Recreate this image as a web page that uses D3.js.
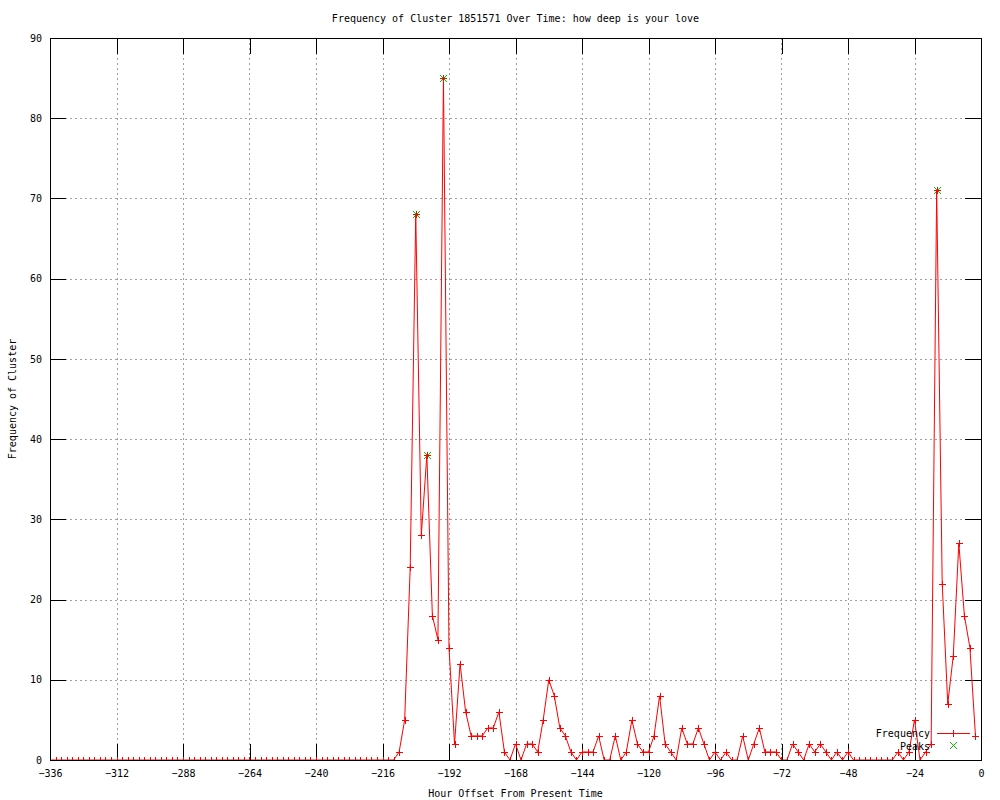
<!DOCTYPE html>
<html>
<head>
<meta charset="utf-8">
<script src="https://cdn.jsdelivr.net/npm/d3@7"></script>
<style>
  body { margin: 0; background: #fff; }
  svg { display: block; }
  text { font-family: 'DejaVu Sans Mono', monospace; font-size: 10px; fill: #000; }
</style>
</head>
<body>
<div id="chart"></div>
<script>
// hours before now, one reading every 2 hours (-336 .. -2)
var hours = d3.range(-336, 0, 2);

// frequency per reading
var frequency = [
  0, 0, 0, 0, 0, 0, 0, 0, 0, 0, 0, 0,          // -336 .. -314
  0, 0, 0, 0, 0, 0, 0, 0, 0, 0, 0, 0,          // -312 .. -290
  0, 0, 0, 0, 0, 0, 0, 0, 0, 0, 0, 0,          // -288 .. -266
  0, 0, 0, 0, 0, 0, 0, 0, 0, 0, 0, 0,          // -264 .. -242
  0, 0, 0, 0, 0, 0, 0, 0, 0, 0, 0, 0,          // -240 .. -218
  0, 0, 0, 1, 5, 24, 68, 28, 38, 18, 15, 85,   // -216 .. -194
  14, 2, 12, 6, 3, 3, 3, 4, 4, 6, 1, 0,        // -192 .. -170
  2, 0, 2, 2, 1, 5, 10, 8, 4, 3, 1, 0,         // -168 .. -146
  1, 1, 1, 3, 0, 0, 3, 0, 1, 5, 2, 1,          // -144 .. -122
  1, 3, 8, 2, 1, 0, 4, 2, 2, 4, 2, 0,          // -120 .. -98
  1, 0, 1, 0, 0, 3, 0, 2, 4, 1, 1, 1,          // -96 .. -74
  0, 0, 2, 1, 0, 2, 1, 2, 1, 0, 1, 0,          // -72 .. -50
  1, 0, 0, 0, 0, 0, 0, 0, 0, 1, 0, 1,          // -48 .. -26
  5, 0, 1, 2, 71, 22, 7, 13, 27, 18, 14, 3     // -24 .. -2
];

var peakHours = [-204, -200, -194, -16];
var peakValues = [68, 38, 85, 71];

var xTicks = d3.range(-336, 1, 24);
var yTicks = d3.range(0, 91, 10);

var titleText = 'Frequency of Cluster 1851571 Over Time: how deep is your love';
var xLabel = 'Hour Offset From Present Time';
var yLabel = 'Frequency of Cluster';

var width = 1000,
  height = 800,
  plotLeft = 50,
  plotRight = 981,
  plotTop = 38,
  plotBottom = 760,
  tickLen = 16;

var svg = d3.select('#chart').append('svg')
  .attr('width', width)
  .attr('height', height);

var x = d3.scaleLinear().domain([-336, 0]).range([plotLeft, plotRight]);
var y = d3.scaleLinear().domain([0, 90]).range([plotBottom, plotTop]);

// grid
var grid = svg.append('g')
  .attr('stroke', '#a0a0a0')
  .attr('stroke-dasharray', '2,3')
  .attr('shape-rendering', 'crispEdges');

grid.selectAll('.vgrid')
  .data(xTicks.slice(1, -1))
  .enter()
  .append('line')
  .attr('x1', function (d) { return Math.round(x(d)) + 0.5; })
  .attr('x2', function (d) { return Math.round(x(d)) + 0.5; })
  .attr('y1', plotTop)
  .attr('y2', plotBottom);

grid.selectAll('.hgrid')
  .data(yTicks.slice(1, -1))
  .enter()
  .append('line')
  .attr('y1', function (d) { return Math.round(y(d)) + 0.5; })
  .attr('y2', function (d) { return Math.round(y(d)) + 0.5; })
  .attr('x1', plotLeft)
  .attr('x2', plotRight);

// axes (ticks point inwards, mirrored on top and right)
function styleAxis(g) {
  g.select('.domain').remove();
  g.selectAll('line').attr('stroke', '#000').attr('shape-rendering', 'crispEdges');
  g.selectAll('text')
    .attr('fill', '#000')
    .style('font-family', "'DejaVu Sans Mono', monospace")
    .style('font-size', '10px');
}

svg.append('g')
  .attr('transform', 'translate(0,' + plotBottom + ')')
  .call(d3.axisBottom(x).tickValues(xTicks).tickSize(-tickLen).tickPadding(10))
  .call(styleAxis);

svg.append('g')
  .attr('transform', 'translate(0,' + plotTop + ')')
  .call(d3.axisTop(x).tickValues(xTicks).tickSize(-tickLen).tickFormat(''))
  .call(styleAxis);

svg.append('g')
  .attr('transform', 'translate(' + plotLeft + ',0)')
  .call(d3.axisLeft(y).tickValues(yTicks).tickSize(-tickLen).tickPadding(8))
  .call(styleAxis);

svg.append('g')
  .attr('transform', 'translate(' + plotRight + ',0)')
  .call(d3.axisRight(y).tickValues(yTicks).tickSize(-tickLen).tickFormat(''))
  .call(styleAxis);

// data
svg.append('clipPath')
  .attr('id', 'plot-clip')
  .append('rect')
  .attr('x', plotLeft - 6)
  .attr('y', plotTop - 6)
  .attr('width', plotRight - plotLeft + 12)
  .attr('height', plotBottom - plotTop + 6);

var plot = svg.append('g').attr('clip-path', 'url(#plot-clip)');

var points = hours.map(function (h, i) { return [h, frequency[i]]; });

var line = d3.line()
  .x(function (d) { return x(d[0]); })
  .y(function (d) { return y(d[1]); });

var s = 3.5;

function plus(cx, cy) {
  return 'M' + (cx - s) + ',' + cy + 'H' + (cx + s) + 'M' + cx + ',' + (cy - s) + 'V' + (cy + s);
}

function cross(cx, cy) {
  return 'M' + (cx - s) + ',' + (cy - s) + 'L' + (cx + s) + ',' + (cy + s) +
    'M' + (cx - s) + ',' + (cy + s) + 'L' + (cx + s) + ',' + (cy - s);
}

// peaks sit under the red series, as in the original
plot.selectAll('.peak-pt')
  .data(peakHours.map(function (h, i) { return [h, peakValues[i]]; }))
  .enter()
  .append('path')
  .classed('peak-pt', true)
  .attr('fill', 'none')
  .attr('stroke', '#00c000')
  .attr('d', function (d) {
    return cross(Math.round(x(d[0])) + 0.5, Math.round(y(d[1])) + 0.5);
  });

plot.append('path')
  .datum(points)
  .attr('fill', 'none')
  .attr('stroke', '#ff0000')
  .attr('stroke-width', 1)
  .attr('d', line);

plot.selectAll('.freq-pt')
  .data(points)
  .enter()
  .append('path')
  .classed('freq-pt', true)
  .attr('fill', 'none')
  .attr('stroke', '#ff0000')
  .attr('shape-rendering', 'crispEdges')
  .attr('d', function (d) {
    return plus(Math.round(x(d[0])) + 0.5, Math.round(y(d[1])) + 0.5);
  });

// border
svg.append('rect')
  .attr('x', plotLeft + 0.5)
  .attr('y', plotTop + 0.5)
  .attr('width', plotRight - plotLeft)
  .attr('height', plotBottom - plotTop)
  .attr('fill', 'none')
  .attr('stroke', '#000')
  .attr('shape-rendering', 'crispEdges');

// legend
var legend = svg.append('g');

legend.append('text')
  .attr('x', 930)
  .attr('y', 737)
  .attr('text-anchor', 'end')
  .text('Frequency');

legend.append('line')
  .attr('x1', 937).attr('x2', 970)
  .attr('y1', 733.5).attr('y2', 733.5)
  .attr('stroke', '#ff0000')
  .attr('shape-rendering', 'crispEdges');

legend.append('path')
  .attr('fill', 'none')
  .attr('stroke', '#ff0000')
  .attr('shape-rendering', 'crispEdges')
  .attr('d', plus(953.5, 733.5));

legend.append('text')
  .attr('x', 930)
  .attr('y', 750)
  .attr('text-anchor', 'end')
  .text('Peaks');

legend.append('path')
  .attr('fill', 'none')
  .attr('stroke', '#00c000')
  .attr('d', cross(953.5, 745.5));

// titles
svg.append('text')
  .attr('x', (plotLeft + plotRight) / 2)
  .attr('y', 22)
  .attr('text-anchor', 'middle')
  .text(titleText);

svg.append('text')
  .attr('x', (plotLeft + plotRight) / 2)
  .attr('y', 797)
  .attr('text-anchor', 'middle')
  .text(xLabel);

svg.append('text')
  .attr('transform', 'translate(16,' + ((plotTop + plotBottom) / 2) + ') rotate(-90)')
  .attr('text-anchor', 'middle')
  .text(yLabel);
</script>
</body>
</html>
